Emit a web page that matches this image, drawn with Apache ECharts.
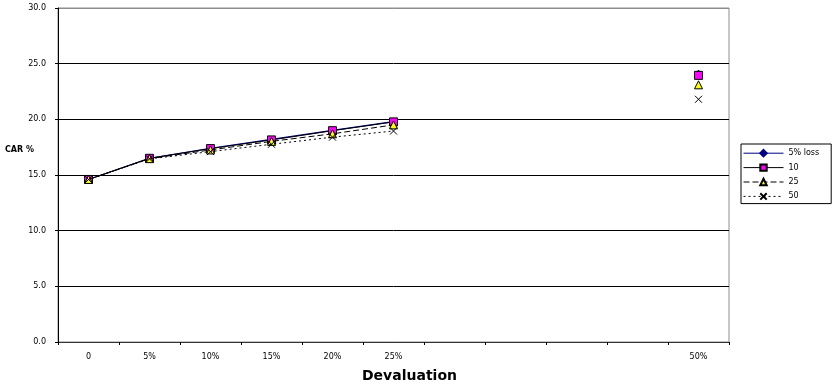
<!DOCTYPE html>
<html>
<head>
<meta charset="utf-8">
<script src="https://cdn.jsdelivr.net/npm/echarts@6/dist/echarts.min.js"></script>
<style>
  html, body { margin: 0; padding: 0; background: #fff; }
  #chart { width: 832px; height: 388px; }
</style>
</head>
<body>
<div id="chart"></div>
<script>
// Devaluation steps (blank slots keep the gap before 50%)
const categories = ['0', '5%', '10%', '15%', '20%', '25%', '', '', '', '', '50%'];

// CAR % for each loss scenario
const loss5  = [14.6, 16.5, 17.4, 18.2, 19.0, 19.8, null, null, null, null, 24.15];
const loss10 = [14.6, 16.5, 17.37, 18.15, 18.98, 19.77, null, null, null, null, 23.95];
const loss25 = [14.6, 16.47, 17.25, 18.02, 18.7, 19.5, null, null, null, null, 23.1];
const loss50 = [14.6, 16.45, 17.1, 17.76, 18.4, 18.95, null, null, null, null, 21.8];

const seriesNames = ['5% loss', '10', '25', '50'];
const yTicks = [0, 5, 10, 15, 20, 25, 30];

const FONT = 'DejaVu Sans, Verdana, sans-serif';
const crossPath = 'path://M0,0L10,10M10,0L0,10';

const chart = echarts.init(document.getElementById('chart'), null, { renderer: 'canvas' });

chart.setOption({
  animation: false,
  backgroundColor: '#fff',
  grid: {
    left: 58, right: 103, top: 8, bottom: 46,
    show: true, borderColor: '#8c8c8c', borderWidth: 1, backgroundColor: '#fff'
  },
  legend: {
    orient: 'vertical',
    left: 741, top: 144,
    data: seriesNames,
    itemWidth: 40, itemHeight: 8, itemGap: 6,
    padding: [5, 12, 3, 2],
    borderColor: '#000', borderWidth: 1, backgroundColor: '#fff',
    lineStyle: { width: 1 },
    textStyle: { fontFamily: FONT, fontSize: 8, color: '#000' }
  },
  xAxis: {
    type: 'category',
    data: categories,
    boundaryGap: true,
    axisLine: { lineStyle: { color: '#333', width: 1 } },
    axisTick: { show: true, interval: 0, length: 3, lineStyle: { color: '#000' } },
    axisLabel: { interval: 0, fontFamily: FONT, fontSize: 8, color: '#000', margin: 11 }
  },
  yAxis: {
    type: 'value',
    min: yTicks[0], max: yTicks[yTicks.length - 1], interval: 5,
    axisLine: { show: true, lineStyle: { color: '#000', width: 1 } },
    axisTick: { show: true, length: 3, lineStyle: { color: '#000' } },
    axisLabel: {
      fontFamily: FONT, fontSize: 8, color: '#000', margin: 12,
      formatter: v => v.toFixed(1)
    },
    splitLine: {
      lineStyle: { color: ['#000', '#000', '#000', '#000', '#000', '#000', '#8c8c8c'], width: 1 }
    }
  },
  graphic: [
    {
      type: 'text', left: 5, top: 146,
      style: { text: 'CAR %', fontFamily: FONT, fontSize: 8, fontWeight: 'bold', fill: '#000' }
    },
    {
      type: 'text', left: 362, top: 369,
      style: { text: 'Devaluation', fontFamily: FONT, fontSize: 14, fontWeight: 'bold', fill: '#000' }
    }
  ],
  series: [
    {
      name: seriesNames[0], type: 'line', data: loss5, z: 2,
      symbol: 'diamond', symbolSize: 6,
      lineStyle: { color: '#000080', width: 1.2 },
      itemStyle: { color: '#000080', borderColor: '#000080', borderWidth: 1 }
    },
    {
      name: seriesNames[1], type: 'line', data: loss10, z: 3,
      symbol: 'rect', symbolSize: 8,
      lineStyle: { color: '#000', width: 1 },
      itemStyle: { color: '#ff00ff', borderColor: '#000', borderWidth: 1 }
    },
    {
      name: seriesNames[2], type: 'line', data: loss25, z: 4,
      symbol: 'triangle', symbolSize: 8,
      lineStyle: { color: '#000', width: 1, type: [6, 3] },
      itemStyle: { color: '#ffff00', borderColor: '#000', borderWidth: 1 }
    },
    {
      name: seriesNames[3], type: 'line', data: loss50, z: 5,
      symbol: crossPath, symbolSize: 7,
      lineStyle: { color: '#000', width: 1, type: [2, 3] },
      itemStyle: { color: 'rgba(0,0,0,0)', borderColor: '#000', borderWidth: 1 }
    }
  ]
});
</script>
</body>
</html>
